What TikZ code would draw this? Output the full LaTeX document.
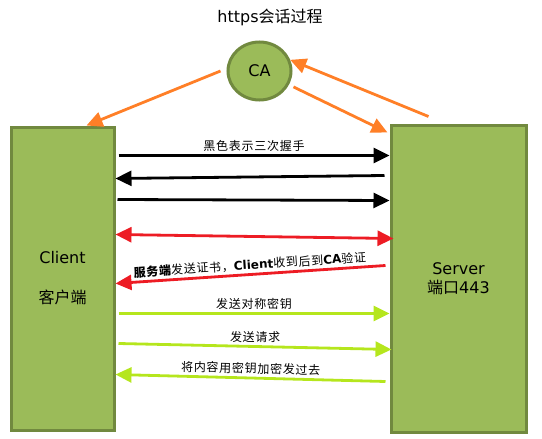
\documentclass[tikz,border=0pt]{standalone}
\usepackage{fontspec}
\setmainfont{DejaVu Sans}
\newfontfamily\cjk{Noto Sans CJK SC}
\newfontfamily\cjklbl[LetterSpace=6]{Noto Sans CJK SC}
\newfontfamily\latinfont{DejaVu Sans}
\usetikzlibrary{positioning}
\usetikzlibrary{shapes.geometric}
\usetikzlibrary{arrows.meta}

\definecolor{boxgreen}{HTML}{9BBB59}
\definecolor{boxedge}{HTML}{71893F}
\definecolor{caorange}{HTML}{FF7F27}
\definecolor{certred}{HTML}{ED1C24}
\definecolor{keygreen}{HTML}{B5E61D}

\begin{document}
\begin{tikzpicture}[x=1pt,y=-1pt,
    party/.style={draw=boxedge,fill=boxgreen,line width=3pt,align=center,
        font=\fontsize{16}{19}\selectfont},
    msg/.style={line width=2.8pt,-{Triangle[length=16pt,width=15pt]}},
    twoway/.style={line width=2.8pt,{Triangle[length=16pt,width=15pt]}-{Triangle[length=16pt,width=15pt]}},
    lbl/.style={midway,above,sloped,inner sep=2.5pt,text=black,font=\fontsize{12}{14}\selectfont\cjklbl}]
    \useasboundingbox (0,0) rectangle (542,439);

    \path (270,17) node (title) {\fontsize{16}{19}\selectfont https\cjk 会话过程};
    \path (259.5,71) node [party,ellipse,minimum width=63pt,minimum height=58pt,inner sep=0pt] (ca) {CA};
    \path (62.5,278.5) node [party,minimum width=103pt,minimum height=303pt] (client)
        {Client\\[21pt]{\cjk 客户端}};
    \path (458.5,278.5) node [party,minimum width=135pt,minimum height=307pt] (server)
        {Server\\{\cjk 端口}443};

    % CA certificate check
    \draw [msg,caorange] ([xshift=-6pt]ca.west) -- ([xshift=24pt]client.north);
    \draw [msg,caorange,shorten <=5pt] (ca.-25) -- ([shift={(-2pt,-9pt)}]server.north west);
    \draw [msg,caorange] ([shift={(-30pt,7pt)}]server.north) -- (ca.20);

    % handshake
    \draw [msg,black] ([shift={(3pt,-30pt)}]client.north east) -- ([yshift=-32pt]server.north west)
        node[lbl] {黑色表示三次握手};
    \draw [msg,black] ([shift={(-5pt,-52pt)}]server.north west) -- ([yshift=-53pt]client.north east);
    \draw [msg,black] ([shift={(2pt,-74pt)}]client.north east) -- ([yshift=-77pt]server.north west);

    % certificate
    \draw [twoway,certred] ([yshift=-109pt]client.north east)
        -- ([shift={(4pt,-115pt)}]server.north west);
    \draw [msg,certred] ([shift={(-4pt,-142pt)}]server.north west) -- ([yshift=-158pt]client.north east)
        node[lbl] {{\bfseries 服务端}发送证书，{\latinfont\bfseries Client}收到后到{\latinfont\bfseries CA}验证};

    % symmetric key
    \draw [msg,keygreen] ([shift={(3pt,-188pt)}]client.north east) -- ([yshift=-190pt]server.north west)
        node[lbl] {发送对称密钥};
    \draw [msg,keygreen] ([shift={(3pt,-218pt)}]client.north east) -- ([shift={(2pt,-226pt)}]server.north west)
        node[lbl] {发送请求};
    \draw [msg,keygreen] ([shift={(-4pt,-258pt)}]server.north west) -- ([yshift=-249pt]client.north east)
        node[lbl] {将内容用密钥加密发过去};
\end{tikzpicture}
\end{document}
